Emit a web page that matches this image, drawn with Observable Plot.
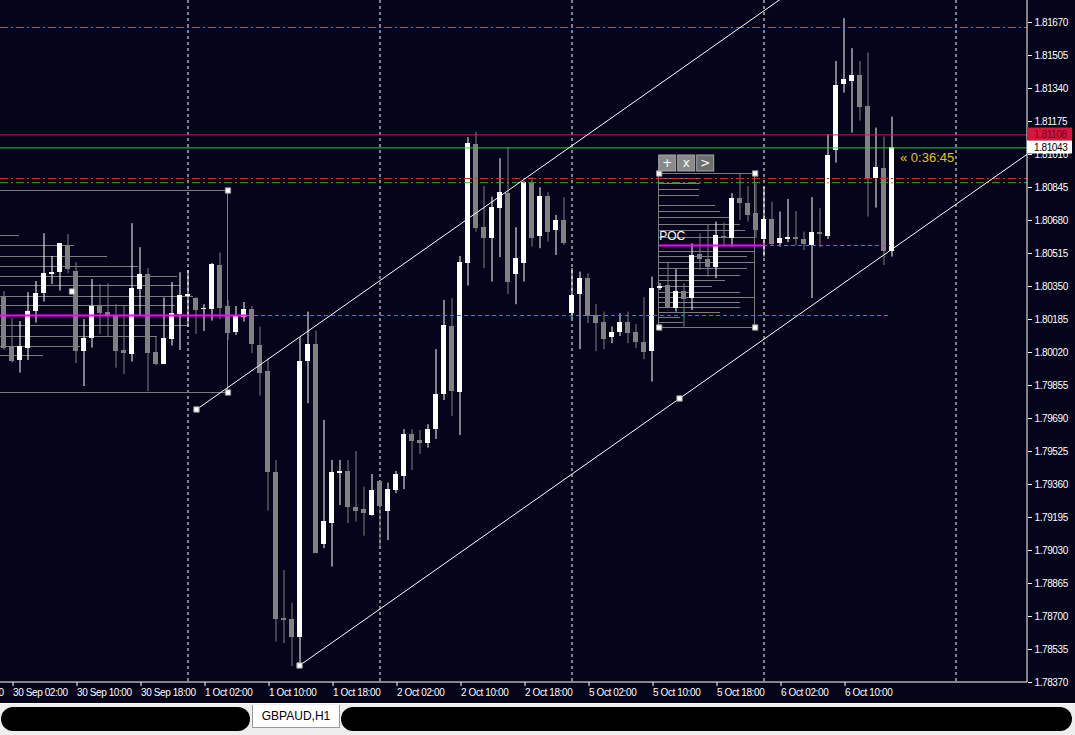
<!DOCTYPE html>
<html><head><meta charset="utf-8">
<script src="https://cdn.jsdelivr.net/npm/d3@7"></script>
<script src="https://cdn.jsdelivr.net/npm/@observablehq/plot@0.6"></script>
<style>
html,body{margin:0;padding:0;background:#04041a;width:1075px;height:735px;overflow:hidden}
#chart svg{display:block}
#tabs{position:relative;width:1075px;height:32px;background:#eeeeee;border-top:1px solid #ffffff;box-sizing:border-box}
#tabs .pill{position:absolute;top:3px;height:24px;background:#000;border-radius:12px}
#tabs .tab{position:absolute;left:252px;top:1px;width:86px;height:22px;background:#fff;border:1px solid #9a9a9a;border-top:none;font:12px "Liberation Sans",Arial,sans-serif;color:#000;text-align:center;line-height:22px}
</style></head><body>
<div id="chart"></div>
<div id="tabs"><div class="pill" style="left:1px;width:249px"></div><div class="tab">GBPAUD,H1</div><div class="pill" style="left:341px;width:731px"></div></div>
<script>
// ---- data: GBPAUD H1 candles, bar 0 = 1 Oct 00:00, first visible bar = -23 ----
const firstBar = -23;
const open = [1.80297,1.80050,1.79980,1.80042,1.80227,1.80317,1.80412,1.80422,1.80555,1.80425,1.80027,1.80089,1.80250,1.80220,1.80205,1.80030,1.80009,1.80337,1.80409,1.80019,1.79962,1.80087,1.80209,
1.80302,1.80290,1.80234,1.80235,1.80455,1.80250,1.80122,1.80193,1.80234,1.80055,1.79925,1.79419,1.78689,1.78684,1.78597,1.79975,1.80059,1.79060,1.79163,1.79417,1.79425,1.79245,1.79235,1.79205,
1.79375,1.79227,1.79330,1.79402,1.79610,1.79580,1.79567,1.79634,1.79809,1.80150,1.79822,1.80467,1.81060,1.80644,1.80592,1.80742,1.80814,1.80410,1.80467,1.80867,1.80602,1.80800,1.80630,1.80680,
1.80214,1.80309,1.80389,1.80205,1.80169,1.80094,1.80122,1.80169,1.80122,1.80072,1.80027,1.80340,1.80355,1.80242,1.80325,1.80292,1.80510,1.80485,1.80447,1.80600,1.80592,1.80789,1.80767,1.80717,
1.80584,1.80684,1.80564,1.80585,1.80594,1.80584,1.80555,1.80622,1.80600,1.81030,1.81359,1.81377,1.81405,1.81250,1.80892,1.80942,1.80527];
const high = [1.80325,1.80190,1.80175,1.80319,1.80375,1.80614,1.80500,1.80565,1.80610,1.80469,1.80185,1.80385,1.80359,1.80364,1.80259,1.80252,1.80664,1.80544,1.80439,1.80100,1.80292,1.80370,1.80419,
1.80430,1.80295,1.80259,1.80465,1.80517,1.80280,1.80250,1.80270,1.80250,1.80147,1.79989,1.79480,1.78930,1.78767,1.80094,1.80222,1.80127,1.79680,1.79480,1.79480,1.79480,1.79525,1.79347,1.79410,
1.79380,1.79367,1.79425,1.79634,1.79634,1.79630,1.79659,1.80034,1.80280,1.80289,1.80500,1.81094,1.81122,1.80850,1.80797,1.80989,1.81044,1.80644,1.80875,1.80894,1.80844,1.80819,1.80705,1.80794,
1.80440,1.80422,1.80414,1.80260,1.80222,1.80147,1.80214,1.80222,1.80159,1.80294,1.80397,1.80365,1.80472,1.80434,1.80364,1.80564,1.80614,1.80660,1.80672,1.80667,1.80814,1.80914,1.80850,1.80864,
1.80847,1.80772,1.80722,1.80785,1.80725,1.80622,1.80794,1.80739,1.81110,1.81475,1.81689,1.81539,1.81475,1.81517,1.81142,1.81097,1.81197];
const low = [1.80030,1.79967,1.79917,1.79980,1.80167,1.80272,1.80360,1.80327,1.80414,1.79964,1.79850,1.80042,1.80109,1.80097,1.79942,1.79909,1.79972,1.80200,1.79825,1.79955,1.79959,1.80052,1.80030,
1.80147,1.80110,1.80125,1.80177,1.80184,1.80080,1.80105,1.80172,1.80014,1.79802,1.79227,1.78572,1.78564,1.78450,1.78447,1.79764,1.79015,1.79039,1.78947,1.79255,1.79164,1.79172,1.79102,1.79202,
1.79039,1.79080,1.79314,1.79334,1.79430,1.79510,1.79542,1.79585,1.79780,1.79700,1.79605,1.80352,1.80622,1.80439,1.80372,1.80494,1.80309,1.80259,1.80372,1.80547,1.80539,1.80572,1.80505,1.80555,
1.80189,1.80034,1.80164,1.80025,1.80034,1.80064,1.80100,1.80064,1.80039,1.79984,1.79872,1.80330,1.80239,1.80222,1.80147,1.80230,1.80430,1.80397,1.80389,1.80547,1.80547,1.80680,1.80672,1.80589,
1.80497,1.80555,1.80547,1.80569,1.80555,1.80530,1.80290,1.80544,1.80585,1.80967,1.81317,1.81117,1.81177,1.80697,1.80742,1.80455,1.80497];
const close = [1.80039,1.79975,1.80050,1.80225,1.80314,1.80414,1.80422,1.80564,1.80434,1.80027,1.80089,1.80250,1.80217,1.80204,1.80027,1.80017,1.80342,1.80410,1.80017,1.79962,1.80089,1.80215,1.80305,
1.80309,1.80232,1.80242,1.80460,1.80242,1.80117,1.80200,1.80234,1.80059,1.79917,1.79422,1.78684,1.78680,1.78594,1.79975,1.80059,1.79017,1.79177,1.79422,1.79425,1.79247,1.79227,1.79214,1.79330,
1.79252,1.79334,1.79410,1.79610,1.79577,1.79567,1.79634,1.79809,1.80155,1.79827,1.80469,1.81064,1.80642,1.80592,1.80744,1.80819,1.80372,1.80489,1.80872,1.80592,1.80800,1.80622,1.80680,1.80564,
1.80305,1.80389,1.80202,1.80164,1.80085,1.80122,1.80169,1.80117,1.80072,1.80022,1.80342,1.80350,1.80244,1.80325,1.80287,1.80505,1.80484,1.80447,1.80605,1.80592,1.80789,1.80764,1.80705,1.80630,
1.80684,1.80560,1.80589,1.80597,1.80585,1.80560,1.80622,1.80609,1.81005,1.81355,1.81385,1.81405,1.81247,1.80892,1.80947,1.80527,1.81043];

// axis ticks
const timeTickBars = [-30,-22,-14,-6,2,10,18,26,34,42,50,58,66,74,82];
const timeTickLabels = ["29 Sep 18:00","30 Sep 02:00","30 Sep 10:00","30 Sep 18:00","1 Oct 02:00","1 Oct 10:00","1 Oct 18:00","2 Oct 02:00","2 Oct 10:00","2 Oct 18:00","5 Oct 02:00","5 Oct 10:00","5 Oct 18:00","6 Oct 02:00","6 Oct 10:00"];
const priceTicks = [1.81670,1.81505,1.81340,1.81175,1.81010,1.80845,1.80680,1.80515,1.80350,1.80185,1.80020,1.79855,1.79690,1.79525,1.79360,1.79195,1.79030,1.78865,1.78700,1.78535,1.78370];
const dayGridBars = [0,24,48,72,96];

// horizontal levels: top dash-dot, red line, bid line, red dash-dot, green dash-dot
const levelPrices = [1.81645,1.81108,1.81043,1.80890,1.80869];

// channel anchors (bar, price)
const channelBars = [1.06,13.94,61.44];
const channelPrices = [1.79735,1.78455,1.79790];

// left volume profile (starts before visible area)
const leftProfileStart = -40, leftProfileEnd = 5.0;
const leftProfileTop = 1.80830, leftProfileBottom = 1.79820;
const leftProfilePrices = [1.80605,1.80555,1.80500,1.80450,1.80400,1.80355,1.80300,1.80255,1.80155,1.80100,1.80050,1.80005];
const leftProfileEnds = [-21.06,-14.19,-10.06,-6.19,-1.31,-0.94,0.69,-1.56,-0.06,-3.81,-13.44,-18.06];
const leftPOC = 1.80205, leftPOCEnd = 7.44;
const leftMarker = [-14.5, 1.80325];

// right volume profile
const rightProfileStart = 58.9, rightProfileEnd = 70.9;
const rightProfileTop = 1.80915, rightProfileBottom = 1.80145;
const rightProfilePrices = [1.80890,1.80865,1.80835,1.80805,1.80755,1.80725,1.80695,1.80660,1.80630,1.80595,1.80525,1.80500,1.80470,1.80440,1.80405,1.80380,1.80350,1.80320,1.80295,1.80270,1.80245,1.80220,1.80195,1.80170];
const rightProfileEnds = [63.94,64.06,63.94,63.94,65.94,66.56,67.81,69.06,69.69,70.94,70.94,69.94,70.94,69.94,69.06,67.19,65.56,69.06,70.94,69.06,69.06,66.56,61.56,61.94];
const rightPOC = 1.80555, rightPOCEnd = 71.94;
const pocRayEnd = 87.8;
const countdown = "« 0:36:45";

// ---- build tables ----
const candles = open.map((o,i)=>({bar: firstBar+i, open:o, high:high[i], low:low[i], close:close[i]}));
const bull = candles.filter(d=>d.close>=d.open), bear = candles.filter(d=>d.close<d.open);
const half = 2.5/8;
const minB = 0.00003;
const bTop = d => Math.abs(d.close-d.open) < minB ? (d.open+d.close)/2 + 0.000025 : Math.max(d.open,d.close);
const bBot = d => Math.abs(d.close-d.open) < minB ? (d.open+d.close)/2 - 0.000025 : Math.min(d.open,d.close);
const tickLabel = new Map(timeTickBars.map((b,i)=>[b,timeTickLabels[i]]));
const leftProf = leftProfilePrices.map((p,i)=>({price:p, end:leftProfileEnds[i]}));
const rightProf = rightProfilePrices.map((p,i)=>({price:p, end:rightProfileEnds[i]}));
const xDomain = [-23.4375, 104.9375];
const yDomain = [1.78370, 1.81780];
// channel rays
const slope = (channelPrices[2]-channelPrices[1])/(channelBars[2]-channelBars[1]);
const lowerRay = [{bar:channelBars[1],price:channelPrices[1]},{bar:xDomain[1]+5,price:channelPrices[1]+slope*(xDomain[1]+5-channelBars[1])}];
const upperRay = [{bar:channelBars[0],price:channelPrices[0]},{bar:xDomain[1]+5,price:channelPrices[0]+slope*(xDomain[1]+5-channelBars[0])}];
const anchors = [
  ...channelBars.map((b,i)=>({bar:b, price:channelPrices[i]})),
  {bar:leftProfileEnd, price:leftProfileTop},{bar:leftProfileEnd, price:leftProfileBottom},
  {bar:leftMarker[0], price:leftMarker[1]},
  {bar:rightProfileStart, price:rightProfileTop},{bar:rightProfileEnd, price:rightProfileTop},
  {bar:rightProfileStart, price:rightProfileBottom},{bar:rightProfileEnd, price:rightProfileBottom}
];
const levelStroke = ["#dc4c18","#c81e50","#40c040","#d22828","#3caa3c"];
const levelDash = ["8,3,2,3",null,null,"8,3,2,3","8,3,2,3"];
const levels = levelPrices.map((p,i)=>({price:p, stroke:levelStroke[i], dash:levelDash[i]}));
const last = candles[candles.length-1];

const axisFont = '"Liberation Sans",Arial,sans-serif';
const crisp = "crispEdges";

const chart = Plot.plot({
  width: 1075, height: 703,
  marginLeft: 0, marginRight: 48, marginTop: 0, marginBottom: 21,
  x: {domain: xDomain, axis: null},
  y: {domain: yDomain, axis: null},
  style: {background: "#04041a", color: "white", fontFamily: axisFont, fontSize: "10px", overflow: "hidden"},
  marks: [
    Plot.ruleX(dayGridBars, {stroke: "white", strokeDasharray: "3,3", strokeWidth: 1}),
    // profiles (background)
    Plot.ruleY(leftProf, {y: "price", x1: leftProfileStart, x2: "end", stroke: "#7c7c7c", clip: true, shapeRendering: crisp}),
    Plot.rect([0], {x1: leftProfileStart, x2: leftProfileEnd, y1: leftProfileBottom, y2: leftProfileTop, fill: "none", stroke: "#7c7c7c", clip: true, shapeRendering: crisp}),
    Plot.ruleY(rightProf, {y: "price", x1: rightProfileStart, x2: "end", stroke: "#7c7c7c", shapeRendering: crisp}),
    Plot.rect([0], {x1: rightProfileStart, x2: rightProfileEnd, y1: rightProfileBottom, y2: rightProfileTop, fill: "none", stroke: "#7c7c7c", shapeRendering: crisp}),
    // candles
    Plot.ruleX(bear, {x: "bar", y1: "low", y2: "high", stroke: "#808080"}),
    Plot.ruleX(bull, {x: "bar", y1: "low", y2: "high", stroke: "#ffffff"}),
    Plot.rect(bear, {x1: d=>d.bar-half, x2: d=>d.bar+half, y1: bBot, y2: bTop, fill: "#808080", shapeRendering: crisp}),
    Plot.rect(bull, {x1: d=>d.bar-half, x2: d=>d.bar+half, y1: bBot, y2: bTop, fill: "#ffffff", shapeRendering: crisp}),
    // levels
    ...levels.map(l => Plot.ruleY([l.price], {stroke: l.stroke, strokeDasharray: l.dash ?? undefined})),
    // POC lines
    Plot.ruleY([leftPOC], {x1: leftProfileStart, x2: leftPOCEnd, stroke: "#ff00ff", strokeWidth: 2, clip: true}),
    Plot.ruleY([leftPOC], {x1: leftPOCEnd, x2: pocRayEnd, stroke: "#c03cc8", strokeDasharray: "4,3"}),
    Plot.ruleY([rightPOC], {x1: rightProfileStart, x2: rightPOCEnd, stroke: "#ff00ff", strokeWidth: 2}),
    Plot.ruleY([rightPOC], {x1: rightPOCEnd, x2: pocRayEnd, stroke: "#c03cc8", strokeDasharray: "4,3"}),
    // channel
    Plot.line(upperRay, {x: "bar", y: "price", stroke: "white", strokeWidth: 1, clip: true}),
    Plot.line(lowerRay, {x: "bar", y: "price", stroke: "white", strokeWidth: 1, clip: true}),
    Plot.dot(anchors, {x: "bar", y: "price", symbol: "square", r: 3, fill: "white", stroke: "#9a9a9a", strokeWidth: 1}),
    // texts
    Plot.text([rightPOC], {x: rightProfileStart, y: d=>d, text: ["POC"], dy: -9, dx: 0, textAnchor: "start", fill: "white", fontSize: 12, fontFamily: '"Liberation Sans",Arial,sans-serif'}),
    Plot.text([last], {x: "bar", y: "close", text: [countdown], dx: 8, dy: 10, textAnchor: "start", fill: "#e6c21e", fontSize: 13, fontFamily: '"Liberation Sans",Arial,sans-serif'}),
    // axes
    Plot.ruleX([xDomain[1]], {stroke: "white", dx: -0.5}),
    Plot.ruleY([yDomain[0]], {stroke: "white", dy: -0.5}),
    Plot.axisY(priceTicks, {anchor: "right", tickSize: 4, tickPadding: 3, tickFormat: d => d.toFixed(5), fill: "white", fontSize: 10}),
    Plot.axisX(timeTickBars, {anchor: "bottom", tickSize: 4, tickPadding: 2, tickFormat: d => tickLabel.get(d), textAnchor: "start", dx: 1, fill: "white", fontSize: 10})
  ]
});
d3.select(chart).selectAll("[aria-label='y-axis tick label'] text, [aria-label='x-axis tick label'] text").attr("letter-spacing", "-0.4px");

// price label boxes on the axis and the object buttons, positioned through Plot's scales
const sx = chart.scale("x"), sy = chart.scale("y");
const svg = d3.select(chart);
const xAxis = sx.apply(xDomain[1]);
const boxes = [{price: levelPrices[1], bg: "#dc143c", fg: "#5a0a1e"}, {price: levelPrices[2], bg: "#ffffff", fg: "#000000"}];
const g = svg.append("g").attr("font-family", axisFont).attr("font-size", 10).attr("text-anchor", "start");
boxes.forEach(b => {
  const y = sy.apply(b.price);
  g.append("rect").attr("x", xAxis).attr("y", Math.round(y) - 6.5).attr("width", 45).attr("height", 13).attr("fill", b.bg);
  g.append("text").attr("x", xAxis + 7).attr("y", y).attr("dy", "0.36em").attr("letter-spacing", "-0.4px").attr("fill", b.fg).text(b.price.toFixed(5));
});
const bx = sx.apply(rightProfileStart), by = sy.apply(rightProfileTop);
["+","x",">"].forEach((s,i) => {
  g.append("rect").attr("x", bx + i*19).attr("y", by - 18).attr("width", 17).attr("height", 16).attr("fill", i===2 ? "#6e6e6e" : "#8a8a8a").attr("stroke", "#a8a8a8");
  g.append("text").attr("x", bx + i*19 + 8.5).attr("y", by - 10).attr("dy", "0.35em").attr("text-anchor", "middle").attr("fill", "white").attr("font-family", '"DejaVu Sans",sans-serif').attr("font-size", 12).text(s);
});
document.getElementById("chart").appendChild(chart);
</script>
</body></html>
